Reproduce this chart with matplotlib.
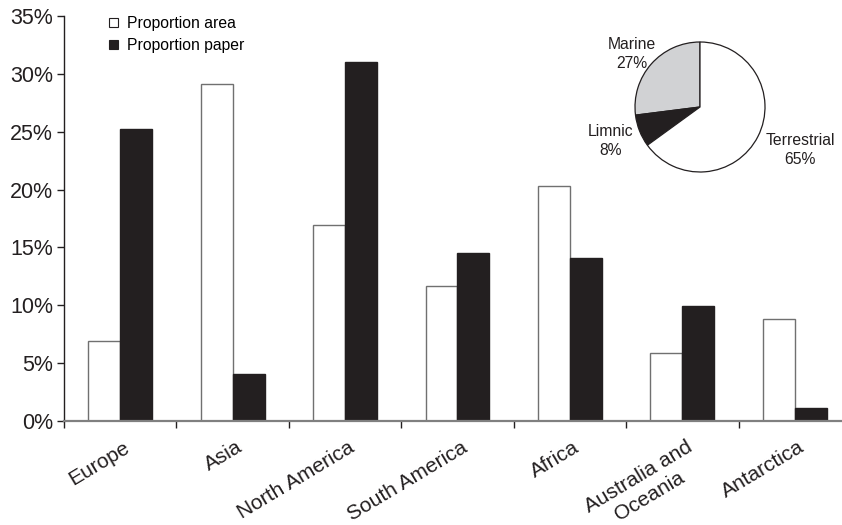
import numpy as np
import matplotlib
matplotlib.use("Agg")
from matplotlib import pyplot as plt
import matplotlib.ticker as mtick
import matplotlib.transforms as mtransforms
from matplotlib.patches import Patch

plt.rcParams['font.family'] = ['Liberation Sans', 'DejaVu Sans']

continents = ["Europe", "Asia", "North America", "South America", "Africa",
              "Australia and\nOceania", "Antarctica"]
proportion_area = [6.9, 29.1, 16.9, 11.7, 20.3, 5.9, 8.8]
proportion_paper = [25.2, 4.1, 31.0, 14.5, 14.1, 9.9, 1.1]
series_names = ["Proportion area", "Proportion paper"]

habitats = ["Marine", "Limnic", "Terrestrial"]
habitat_share = [27, 8, 65]

ink = "#231f20"
fig = plt.figure(figsize=(8.42, 5.25), dpi=100)
ax = fig.add_axes([64 / 842, 104 / 525, 787 / 842, 405 / 525])

x = np.arange(len(continents))
width = 0.284
ax.bar(x - width / 2, np.array(proportion_area) / 100, width, color="white",
       edgecolor="#707070", linewidth=1)
ax.bar(x + width / 2, np.array(proportion_paper) / 100, width, color=ink,
       edgecolor=ink, linewidth=1)

ax.set_xlim(-0.5, len(continents) - 0.5)
ax.set_ylim(0, 0.35)
ax.yaxis.set_major_locator(mtick.MultipleLocator(0.05))
ax.yaxis.set_major_formatter(mtick.PercentFormatter(xmax=1, decimals=0))
ax.tick_params(axis='y', labelsize=15.5, length=5, width=1, pad=3, color=ink, labelcolor=ink)

ax.set_xticks(x)
ax.set_xticklabels(continents, rotation=31, ha='right', va='top',
                   rotation_mode='anchor', multialignment='center')
ax.set_xticks(np.arange(len(continents) + 1) - 0.5, minor=True)
ax.tick_params(axis='x', which='major', length=0, labelsize=15, pad=12, labelcolor=ink)
ax.tick_params(axis='x', which='minor', length=5, width=1, color=ink)
offset = mtransforms.ScaledTranslation(3 / 100, 0, fig.dpi_scale_trans)
for label in ax.get_xticklabels():
    label.set_transform(label.get_transform() + offset)

for side in ['top', 'right']:
    ax.spines[side].set_visible(False)
ax.spines['left'].set_color(ink)
ax.spines['left'].set_linewidth(1)
ax.spines['bottom'].set_color("#808080")
ax.spines['bottom'].set_linewidth(1.6)

handles = [Patch(facecolor="white", edgecolor=ink, linewidth=0.8),
           Patch(facecolor=ink, edgecolor=ink, linewidth=0.8)]
fig.legend(handles, series_names, loc='upper left', bbox_to_anchor=(109 / 842, 1 - 16 / 525),
           frameon=False, fontsize=11.3, handlelength=0.6, handleheight=0.5,
           handletextpad=0.55, labelspacing=0.45, borderpad=0, borderaxespad=0)

# inset pie
r = 65
pax = fig.add_axes([(700 - r) / 842, (525 - 107 - r) / 525, 2 * r / 842, 2 * r / 525])
pax.pie(habitat_share, colors=["#d1d2d4", ink, "white"], startangle=90, counterclock=True,
        wedgeprops=dict(edgecolor=ink, linewidth=0.9))
pax.set_xlim(-1, 1)
pax.set_ylim(-1, 1)
pax.set_aspect('auto')
label_pos = [(-1.05, 0.82), (-1.38, -0.52), (1.54, -0.66)]
for name, share, (lx, ly) in zip(habitats, habitat_share, label_pos):
    pax.text(lx, ly, f"{name}\n{share}%", ha='center', va='center', fontsize=11.3,
             color=ink, linespacing=1.3, clip_on=False)

plt.savefig("out.png", dpi=100)
